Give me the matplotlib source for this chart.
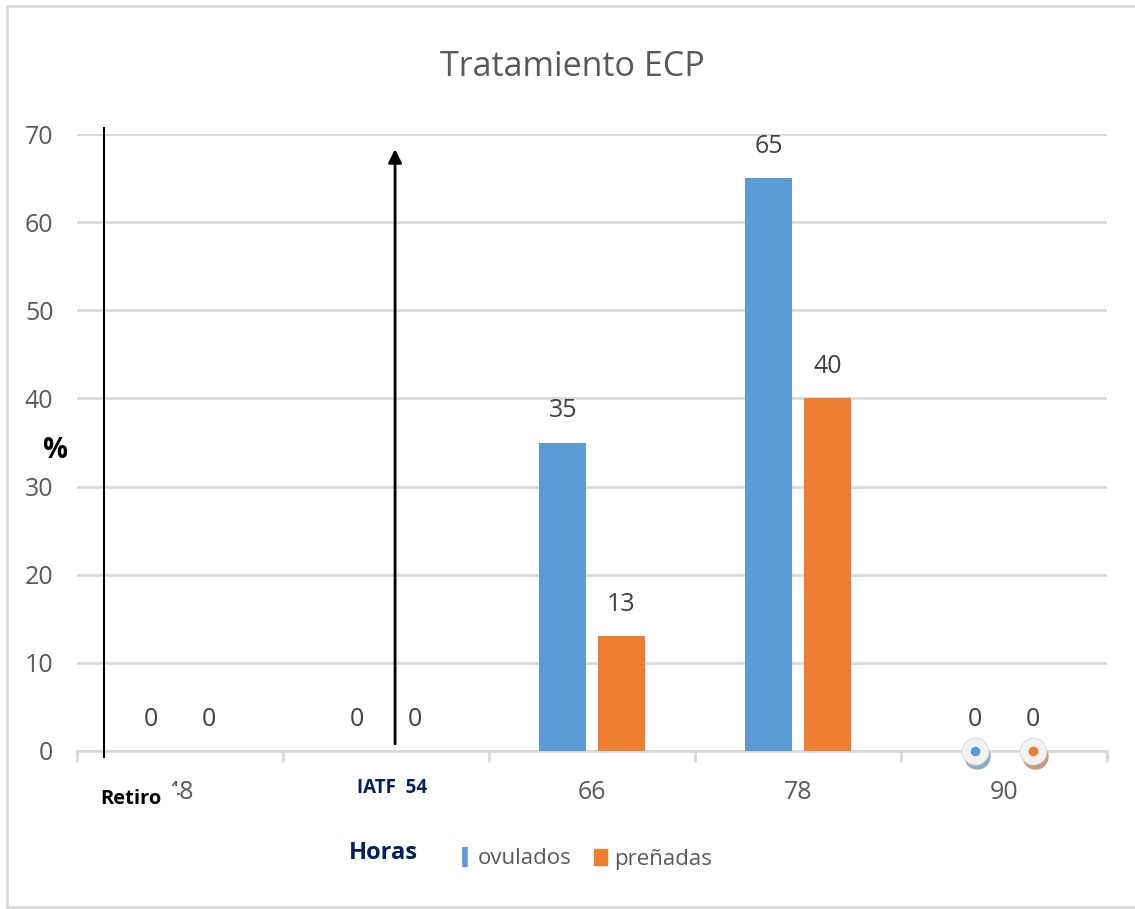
import matplotlib.pyplot as plt
import matplotlib.patches as mpatches
import matplotlib.transforms as mtransforms
from matplotlib.lines import Line2D
import numpy as np

# Data (hours after device removal)
horas = ['48', '54', '66', '78', '90']
ovulados = [0, 0, 35, 65, 0]
prenadas = [0, 0, 13, 40, 0]

blue = '#5B9BD5'
orange = '#ED7D31'
gray_txt = '#595959'
navy = '#002060'

plt.rcParams['font.family'] = ['Open Sans', 'DejaVu Sans']

W, H = 1135, 909
fig = plt.figure(figsize=(W / 100, H / 100), dpi=100)
ax = fig.add_axes([77 / W, 1 - 751 / H, (1107 - 77) / W, (751 - 134) / H])

x = np.arange(len(horas))
bw = 0.228
off = 0.142
b1 = ax.bar(x - off, ovulados, bw, color=blue, zorder=3)
b2 = ax.bar(x + off, prenadas, bw, color=orange, zorder=3)

# value labels
for bars in (b1, b2):
    for bar in bars:
        v = bar.get_height()
        ax.annotate(f'{v:g}', (bar.get_x() + bar.get_width() / 2, v),
                    xytext=(0, 14), textcoords='offset points',
                    ha='center', va='bottom', fontsize=18, color='#404040', zorder=5)

# odd circle markers at the last category
last = len(horas) - 1
for xo, c, sh in ((last - off, blue, '#8FA9C4'), (last + off, orange, '#C19A82')):
    ax.plot(xo + 0.01, -0.6, 'o', ms=19, mfc=sh, mec='none', zorder=4, clip_on=False)
    ax.plot(xo, 0, 'o', ms=19, mfc='#F2F2F2', mec='#E0E0E0', zorder=5, clip_on=False)
    ax.plot(xo, 0, 'o', ms=7, mfc=c, mec='none', zorder=6, clip_on=False)

ax.set_xlim(-0.5, len(horas) - 0.5)
ax.set_ylim(0, 70)
ax.set_yticks(range(0, 71, 10))
ax.yaxis.grid(True, color='#D9D9D9', lw=2)
ax.set_axisbelow(True)
for s in ('top', 'right', 'left'):
    ax.spines[s].set_visible(False)
ax.spines['bottom'].set_color('#D9D9D9')
ax.spines['bottom'].set_linewidth(2)
ax.tick_params(axis='y', length=0, pad=17, labelsize=18, labelcolor=gray_txt)

# second tick is the insemination time, labelled in bold navy
xlabels = list(horas)
xlabels[1] = 'IATF  ' + horas[1]
ax.set_xticks(x)
ax.set_xticklabels(xlabels)
ax.tick_params(axis='x', length=0, pad=21, labelsize=18, labelcolor=gray_txt)
t = ax.get_xticklabels()[1]
t.set_fontsize(13.5)
t.set_fontweight('bold')
t.set_color(navy)
t.set_transform(t.get_transform() +
                mtransforms.ScaledTranslation(6 / 100, 2 / 100, fig.dpi_scale_trans))
ax.set_xticks(np.arange(-0.5, len(horas), 1), minor=True)
ax.tick_params(axis='x', which='minor', length=8, width=2, color='#D9D9D9')

# Retiro line and IATF arrow
ax.plot([-0.369, -0.369], [-0.7, 70.7], color='black', lw=1.5, clip_on=False, zorder=6)
ax.annotate('', xy=(1.044, 68.6), xytext=(1.044, 0.5),
            arrowprops=dict(arrowstyle='-|>', color='black', lw=2, mutation_scale=20),
            zorder=6)

# the Retiro label sits over the first tick label, as in the original
fig.text(100 / W, 1 - 799 / H, 'Retiro', ha='left', va='center', fontsize=14.5,
         fontweight='bold', color='black')
fig.add_artist(mpatches.Rectangle((95 / W, 1 - 812 / H), 82 / W, 26 / H,
                                  transform=fig.transFigure, facecolor='white',
                                  edgecolor='none', zorder=2.5))

fig.text(55 / W, 1 - 451 / H, '%', ha='center', va='center', fontsize=20,
         fontweight='bold', color='black')
fig.text(383 / W, 1 - 853 / H, 'Horas', ha='center', va='center', fontsize=17,
         fontweight='bold', color=navy)
fig.text(572 / W, 1 - 67 / H, 'Tratamiento ECP', ha='center', va='center',
         fontsize=24.5, color=gray_txt)

handles = [Line2D([], [], color=blue, lw=0, marker='|', ms=15, mew=4),
           mpatches.Patch(color=orange)]
fig.legend(handles, ['ovulados', 'preñadas'], loc='center',
           bbox_to_anchor=(585 / W, 1 - 859 / H), ncol=2, frameon=False,
           fontsize=16, labelcolor=gray_txt, handlelength=0.6, handleheight=0.7,
           handletextpad=0.3, columnspacing=1.0)

# light frame round the picture
fig.add_artist(Line2D([7 / W, 7 / W], [1 - 6 / H, 1 - 907 / H], color='#D9D9D9', lw=2))
fig.add_artist(Line2D([7 / W, 1], [1 - 6 / H, 1 - 6 / H], color='#D9D9D9', lw=2))
fig.add_artist(Line2D([7 / W, 1], [1 - 907 / H, 1 - 907 / H], color='#D9D9D9', lw=2))

fig.savefig('out.png', dpi=100)
